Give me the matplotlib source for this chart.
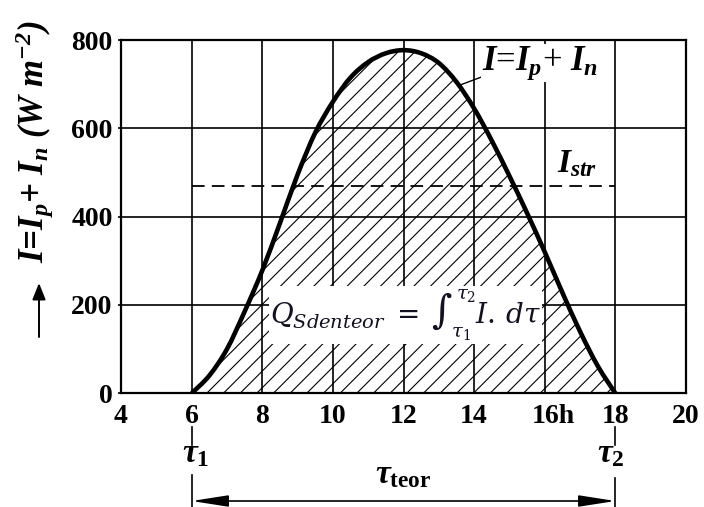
import matplotlib
matplotlib.use('Agg')
import matplotlib.pyplot as plt
from matplotlib.path import Path
from matplotlib.patches import PathPatch
from matplotlib.transforms import blended_transform_factory, ScaledTranslation

# ---- data ----
hours = [6, 6.5, 7, 7.5, 8, 8.5, 9, 9.5, 10, 10.5, 11, 11.5, 12,
         12.5, 13, 13.5, 14, 14.5, 15, 15.5, 16, 16.5, 17, 17.5, 18]
irradiance = [0, 40, 100, 185, 278, 385, 495, 590, 660, 715, 750, 770, 777,
              770, 748, 705, 645, 572, 492, 408, 320, 228, 140, 62, 0]
i_str = 470
tau1, tau2 = 6, 18
x_ticks = [4, 6, 8, 10, 12, 14, 16, 18, 20]
x_ticklabels = ['4', '6', '8', '10', '12', '14', '16h', '18', '20']
y_ticks = [0, 200, 400, 600, 800]
y_ticklabels = ['0', '200', '400', '600', '800']

plt.rcParams.update({
    'font.family': ['Liberation Serif', 'DejaVu Serif'],
    'mathtext.fontset': 'custom',
    'mathtext.rm': 'Liberation Serif:bold:italic',
    'mathtext.it': 'Liberation Serif:bold:italic',
    'mathtext.bf': 'Liberation Serif:bold',
    'hatch.linewidth': 0.8,
})

W, H = 704, 507
fig = plt.figure(figsize=(W / 100, H / 100), dpi=100)
ax = fig.add_axes([121 / W, 1 - 393.3 / H, 565 / W, 353.3 / H])

ax.set_xlim(4, 20)
ax.set_ylim(0, 800)
ax.set_xticks(x_ticks)
ax.set_xticklabels(x_ticklabels)
ax.set_yticks(y_ticks)
ax.set_yticklabels(y_ticklabels)
ax.tick_params(axis='both', labelsize=20, pad=5)
ax.tick_params(axis='x', length=0, pad=8)
ax.tick_params(axis='y', length=2, width=1.2, pad=4)
for lab in ax.get_xticklabels() + ax.get_yticklabels():
    lab.set_fontweight('bold')
lab16 = ax.get_xticklabels()[6]
lab16.set_transform(lab16.get_transform() + ScaledTranslation(0.085, 0, fig.dpi_scale_trans))

for s in ax.spines.values():
    s.set_linewidth(1.6)
ax.set_axisbelow(True)
ax.grid(True, color='black', linewidth=1.2)


def smooth_path(xs, ys, close_to_base=False):
    """Catmull-Rom through the data points, rendered as cubic Bezier segments."""
    n = len(xs)
    verts = [(xs[0], ys[0])]
    codes = [Path.MOVETO]
    for i in range(n - 1):
        x0, y0 = (xs[i - 1], ys[i - 1]) if i > 0 else (xs[i], ys[i])
        x1, y1 = xs[i], ys[i]
        x2, y2 = xs[i + 1], ys[i + 1]
        x3, y3 = (xs[i + 2], ys[i + 2]) if i + 2 < n else (x2, y2)
        c1 = (x1 + (x2 - x0) / 6, y1 + (y2 - y0) / 6)
        c2 = (x2 - (x3 - x1) / 6, y2 - (y3 - y1) / 6)
        verts += [c1, c2, (x2, y2)]
        codes += [Path.CURVE4] * 3
    if close_to_base:
        verts += [(xs[-1], 0), (xs[0], 0), (xs[0], ys[0])]
        codes += [Path.LINETO, Path.LINETO, Path.CLOSEPOLY]
    return Path(verts, codes)


# hatched area
ax.add_patch(PathPatch(smooth_path(hours, irradiance, True), facecolor='none',
                       edgecolor='black', hatch='//', linewidth=0, zorder=2))
# dashed I_str line
ax.hlines(i_str, tau1, tau2, colors='black', linewidth=1.3,
          linestyles=(0, (7, 4)), zorder=3)
# curve
ax.add_patch(PathPatch(smooth_path(hours, irradiance), facecolor='none',
                       edgecolor='black', linewidth=3.3, zorder=4,
                       capstyle='butt'))

# curve label with leader
ax.plot([13.6, 14.2], [698, 716], color='black', linewidth=1.0, zorder=4)
ax.text(14.22, 748, r'$I$=$I_p$+ $I_n$', fontsize=25, ha='left', va='center',
        zorder=5, bbox=dict(facecolor='white', edgecolor='none', pad=0.5))
ax.text(16.35, 500, r'$I_{str}$', fontsize=24, ha='left', va='baseline', zorder=5)

# formula
ax.text(8.22, 177, r'$Q_{Sdenteor}\;=\;\int_{\tau_1}^{\tau_2} I.\,d\tau$',
        fontsize=20, ha='left', va='center', color='#111122',
        math_fontfamily='dejavuserif', zorder=5,
        bbox=dict(facecolor='white', edgecolor='none', pad=1.0))

# y label
fig.text(35 / W, 1 - 142 / H, r'$I$=$I_p$+ $I_n$ (W m$^{-2}$)', rotation=90,
         fontsize=25, fontweight='bold', fontstyle='italic',
         ha='center', va='center')
ax.annotate('', xy=(39 / W, 1 - 283 / H), xytext=(39 / W, 1 - 337 / H),
            xycoords='figure fraction', textcoords='figure fraction',
            arrowprops=dict(arrowstyle='-|>,head_length=0.5,head_width=0.2',
                            color='black', lw=1.4, mutation_scale=20,
                            shrinkA=0, shrinkB=0))

# below-axis annotations
tr = blended_transform_factory(ax.transData, fig.transFigure)


def fy(py):
    return 1 - py / H


for t in (tau1, tau2):
    ax.plot([t, t], [fy(427), fy(445)], color='black', lw=1.2,
            transform=tr, clip_on=False)
ax.plot([tau1, tau1], [fy(475), 0], color='black', lw=1.2, transform=tr, clip_on=False)
ax.plot([tau2, tau2], [fy(478), 0], color='black', lw=1.2, transform=tr, clip_on=False)
ax.text(5.73, fy(462), r'$\tau_{\mathbf{1}}$', fontsize=24, ha='left',
        va='baseline', transform=tr)
ax.text(17.48, fy(462), r'$\tau_{\mathbf{2}}$', fontsize=24, ha='left',
        va='baseline', transform=tr)
ax.text(11.19, fy(483), r'$\tau_{\mathbf{teor}}$', fontsize=24, ha='left',
        va='baseline', transform=tr)
ax.annotate('', xy=(tau2, fy(501)), xytext=(tau1, fy(501)),
            xycoords=tr, textcoords=tr,
            arrowprops=dict(arrowstyle='<|-|>,head_length=1.6,head_width=0.25',
                            color='black', lw=1.2, mutation_scale=14,
                            shrinkA=0, shrinkB=0))

fig.savefig('out.png', dpi=100)
